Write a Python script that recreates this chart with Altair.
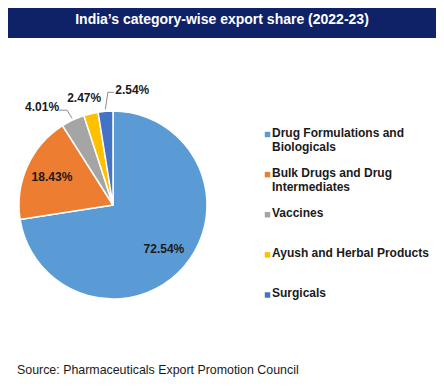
import math
import altair as alt
import pandas as pd

# ---- data ----
title = "India\u2019s category-wise export share (2022-23)"
source = "Source: Pharmaceuticals Export Promotion Council"
categories = [
    "Drug Formulations and Biologicals",
    "Bulk Drugs and Drug Intermediates",
    "Vaccines",
    "Ayush and Herbal Products",
    "Surgicals",
]
legend_labels = [
    "Drug Formulations and\nBiologicals",
    "Bulk Drugs and Drug\nIntermediates",
    "Vaccines",
    "Ayush and Herbal Products",
    "Surgicals",
]
shares = [72.54, 18.43, 4.01, 2.47, 2.54]
colors = ["#5B9BD5", "#ED7D31", "#A5A5A5", "#FFC000", "#4472C4"]

total = sum(shares)
df = pd.DataFrame({
    "idx": list(range(len(categories))),
    "category": categories,
    "legend": legend_labels,
    "share": shares,
    "label": [f"{v:.2f}%" for v in shares],
})

W, H = 428, 372
CX, CY, R = 105, 197, 94
FONT = "Liberation Sans"
TXT = "#1a1a1a"

theta_scale = alt.Scale(domain=[0, total])
color_enc = alt.Color("category:N", scale=alt.Scale(domain=categories, range=colors), legend=None)

band = alt.Chart(pd.DataFrame({"t": [title]})).mark_rect(color="#0F2167").encode(
    x=alt.value(0), x2=alt.value(W), y=alt.value(0), y2=alt.value(30)
)
title_txt = alt.Chart(pd.DataFrame({"t": [title]})).mark_text(
    font=FONT, fontSize=14, fontWeight="bold", color="white", align="center", baseline="middle"
).encode(x=alt.value(W / 2), y=alt.value(12), text="t:N")

arcs = alt.Chart(df).mark_arc(radius=R, stroke="white", strokeWidth=1.5).encode(
    theta=alt.Theta("share:Q", stack=True, scale=theta_scale),
    order=alt.Order("idx:Q"),
    color=color_enc,
    x=alt.value(CX), y=alt.value(CY),
)

base_lbl = alt.Chart(df).transform_window(
    cum="sum(share)", sort=[alt.SortField("idx")], frame=[None, 0]
).transform_calculate(mid="datum.cum - datum.share / 2")


def lbl(filter_expr, radius, dx=0, dy=0):
    return base_lbl.transform_filter(filter_expr).mark_text(
        radius=radius, dx=dx, dy=dy, font=FONT, fontSize=12, fontWeight="bold",
        color=TXT, align="center", baseline="middle"
    ).encode(
        theta=alt.Theta("mid:Q", stack=None, scale=theta_scale),
        text="label:N", x=alt.value(CX), y=alt.value(CY),
    )


inner = lbl("datum.idx < 2", 67)
l_vac = lbl("datum.idx == 2", 110, dx=-24, dy=1)
l_ayu = lbl("datum.idx == 3", 110, dx=-3, dy=0)
l_sur = lbl("datum.idx == 4", 110, dx=28, dy=-5)

# leader lines from slice midpoints (angles derived from the shares)
cum = 0
mids = []
for v in shares:
    mids.append((cum + v / 2) / total * 2 * math.pi)
    cum += v


def polar(a, r):
    return CX + r * math.sin(a), CY - r * math.cos(a)


p_vac = polar(mids[2], 96)
p_sur = polar(mids[4], 96)
segs = pd.DataFrame([
    {"x": p_vac[0], "y": p_vac[1], "x2": p_vac[0] - 5, "y2": p_vac[1] - 8},
    {"x": p_vac[0] - 5, "y": p_vac[1] - 8, "x2": p_vac[0] - 13, "y2": p_vac[1] - 8},
    {"x": p_sur[0], "y": p_sur[1], "x2": p_sur[0] + 2.5, "y2": p_sur[1] - 17},
    {"x": p_sur[0] + 2.5, "y": p_sur[1] - 17, "x2": p_sur[0] + 8.5, "y2": p_sur[1] - 17},
])
leaders = alt.Chart(segs).mark_rule(color="#8c8c8c", strokeWidth=1).encode(
    x=alt.X("x:Q", scale=None), y=alt.Y("y:Q", scale=None),
    x2="x2:Q", y2="y2:Q",
)

ypos = alt.Y("category:N", sort=categories,
             scale=alt.Scale(type="point", range=[126.5, 287], padding=0), axis=None)
leg_sq = alt.Chart(df).mark_square(size=30, opacity=1).encode(
    x=alt.value(259.5), y=ypos, color=color_enc
)
leg_txt = alt.Chart(df).mark_text(
    font=FONT, fontSize=12, fontWeight="bold", color=TXT, align="left", baseline="top",
    lineBreak="\n", lineHeight=14, dy=-7
).encode(x=alt.value(264), y=ypos, text="legend:N")

src = alt.Chart(pd.DataFrame({"t": [source]})).mark_text(
    font=FONT, fontSize=12.4, color=TXT, align="left", baseline="middle"
).encode(x=alt.value(9), y=alt.value(362), text="t:N")

chart = alt.layer(
    band, title_txt, arcs, inner, l_vac, l_ayu, l_sur, leaders, leg_sq, leg_txt, src
).properties(
    width=W, height=H, padding=0,
    autosize=alt.AutoSizeParams(type="fit", contains="padding"),
).configure_view(stroke=None)

chart.save("out.html", embed_options={"renderer": "svg", "actions": False})
